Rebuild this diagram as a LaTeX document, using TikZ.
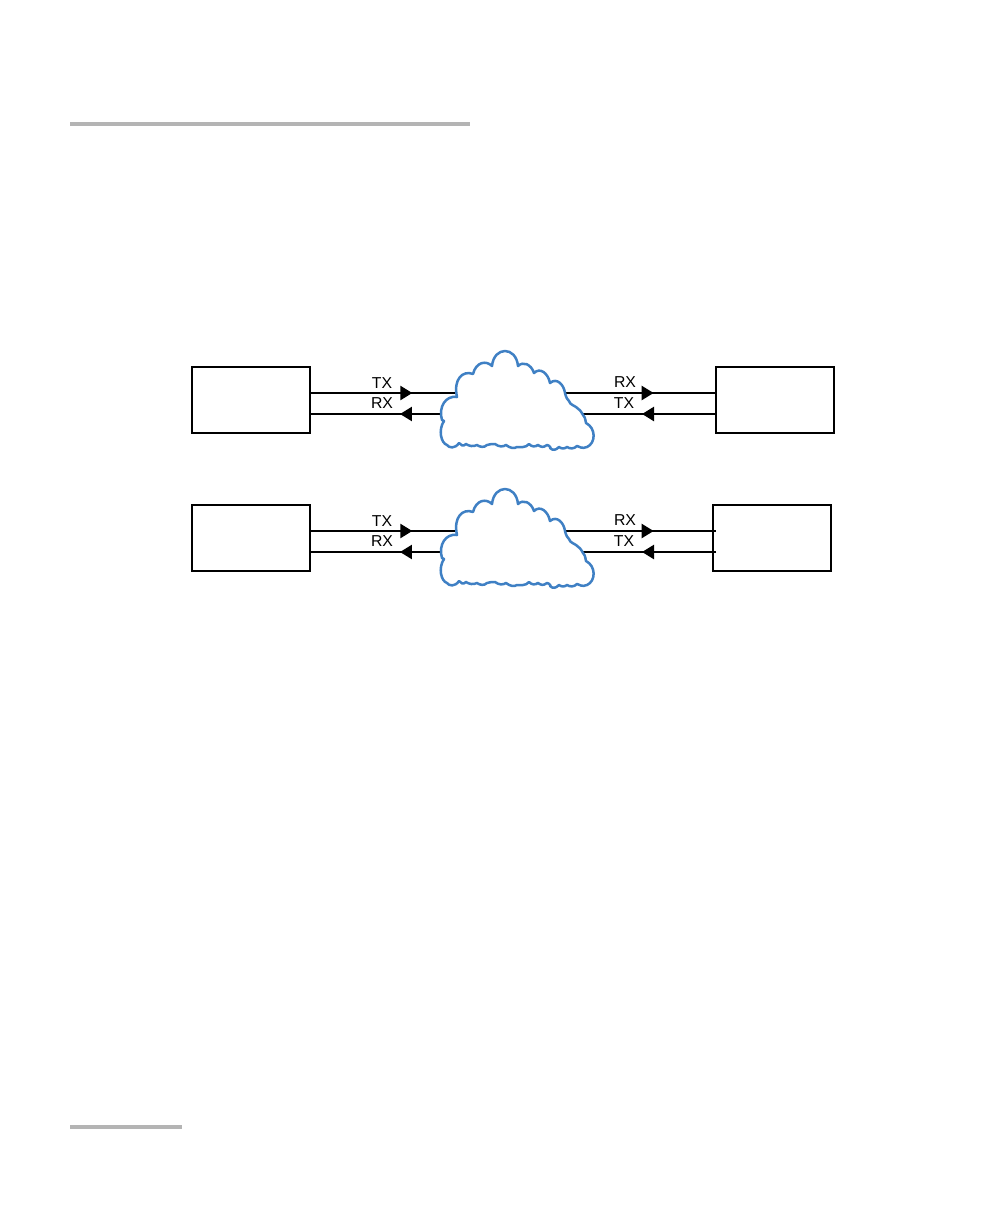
\documentclass[tikz,border=0pt]{standalone}
\usepackage{fontspec}
\setmainfont{Liberation Sans}
\usetikzlibrary{arrows.meta,decorations.markings}
\definecolor{cloudblue}{HTML}{3F80C4}
\definecolor{rulegray}{HTML}{B4B4B4}
\tikzset{
  devbox/.style={draw=black,line width=2.4pt,fill=white,minimum width=118pt,minimum height=66pt,inner sep=0pt,outer sep=0pt,anchor=north west},
  wire/.style={draw=black,line width=2.4pt},
  tipat/.style={postaction={decorate,decoration={markings,mark=at position #1 with {\arrow{Triangle[length=12pt,width=14pt]}}}}},
  sig/.style={font=\fontsize{15.8pt}{15.8pt}\selectfont,inner sep=0pt,text=black},
  cloudline/.style={draw=cloudblue,line width=2.5pt,fill=white,line join=round},
  rulebar/.style={fill=rulegray,draw=none}
}
\newcommand{\netcloud}{%
  \path[cloudline]
    (442,420) .. controls (438,407) and (446,395) .. (457,397)
    .. controls (453,379) and (463,370) .. (473,374)
    .. controls (476,362) and (486,360) .. (492,366)
    .. controls (494,346) and (516,346) .. (518,366)
    .. controls (523,361) and (531,364) .. (534,373)
    .. controls (540,367) and (548,373) .. (550,383)
    .. controls (557,377) and (564,385) .. (565,393)
    .. controls (566,398) and (568,400) .. (569,401)
    .. controls (570,405) and (574,405) .. (576,407)
    .. controls (579,409) and (581,411) .. (583,415)
    .. controls (586,418) and (585,421) .. (586,423)
    .. controls (596,428) and (596,443) .. (587,447)
    .. controls (582,449) and (580,447) .. (577,446)
    .. controls (574,449) and (570,449) .. (567,447)
    .. controls (564,449) and (562,449) .. (559,447)
    .. controls (556,450) and (553,451) .. (550,448)
    .. controls (552,449) and (549,445) .. (547,445)
    .. controls (543,448) and (541,447) .. (538,445)
    .. controls (535,447) and (532,447) .. (529,444)
    .. controls (526,448) and (520,447) .. (517,447)
    .. controls (514,449) and (510,448) .. (506,445)
    .. controls (503,447) and (499,447) .. (495,444)
    .. controls (492,444) and (490,444) .. (487,445)
    .. controls (484,448) and (480,447) .. (477,445)
    .. controls (473,447) and (469,446) .. (466,444)
    .. controls (463,447) and (461,445) .. (459,443)
    .. controls (455,449) and (449,448) .. (447,445)
    .. controls (441,443) and (438,430) .. (444,421)
    -- cycle;}
\begin{document}
\begin{tikzpicture}[x=1pt,y=-1pt]
\useasboundingbox (0,0) rectangle (1008,1224);
\fill[white] (0,0) rectangle (1008,1224);
\path[rulebar] (70,122) rectangle (470,126);
\path[rulebar] (70,1125) rectangle (182,1129);

% upper row
\node[devbox] (la) at (192,367) {};
\node[devbox] (ra) at (716,367) {};
\coordinate (la1) at (311,393);
\coordinate (la2) at (311,414);
\coordinate (ca1) at (460,393);
\coordinate (ca2) at (445,414);
\coordinate (cb1) at (562,393);
\coordinate (cb2) at (580,414);
\coordinate (ra1) at (716,393);
\coordinate (ra2) at (716,414);
\path[wire,tipat=0.68] (la1) -- (ca1);
\path[wire,tipat=0.336] (ca2) -- (la2);
\path[wire,tipat=0.595] (cb1) -- (ra1);
\path[wire,tipat=0.544] (ra2) -- (cb2);
\netcloud
\node[sig] (t1) at (382,383) {TX};
\node[sig] (t2) at (382,403.5) {RX};
\node[sig] (t3) at (625,382.5) {RX};
\node[sig] (t4) at (624,403.5) {TX};

% lower row
\begin{scope}[yshift=-138pt]
\node[devbox] (lb) at (192,367) {};
\node[devbox] (rb) at (713,367) {};
\coordinate (lb1) at (311,393);
\coordinate (lb2) at (311,414);
\coordinate (cc1) at (460,393);
\coordinate (cc2) at (445,414);
\coordinate (cd1) at (562,393);
\coordinate (cd2) at (580,414);
\coordinate (rb1) at (716,393);
\coordinate (rb2) at (716,414);
\path[wire,tipat=0.68] (lb1) -- (cc1);
\path[wire,tipat=0.336] (cc2) -- (lb2);
\path[wire,tipat=0.595] (cd1) -- (rb1);
\path[wire,tipat=0.544] (rb2) -- (cd2);
\netcloud
\node[sig] (t5) at (382,383) {TX};
\node[sig] (t6) at (382,403.5) {RX};
\node[sig] (t7) at (625,382.5) {RX};
\node[sig] (t8) at (624,403.5) {TX};
\end{scope}
\end{tikzpicture}
\end{document}
